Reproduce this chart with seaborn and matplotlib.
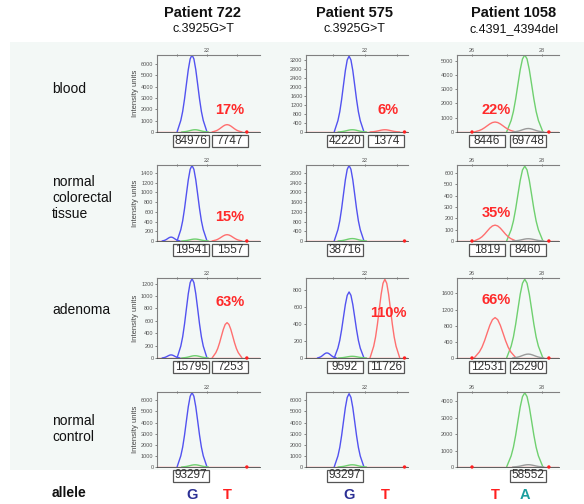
import numpy as np
import pandas as pd
import matplotlib
matplotlib.use("Agg")
import matplotlib.pyplot as plt
import matplotlib.transforms as mtransforms
from matplotlib.patches import Rectangle
import seaborn as sns

sns.set_theme(style="white")
plt.rcParams["font.family"] = ["Liberation Sans", "DejaVu Sans"]

# ---------------- data ----------------
PATIENTS = ["Patient 722", "Patient 575", "Patient 1058"]
MUTATIONS = ["c.3925G>T", "c.3925G>T", "c.4391_4394del"]
TISSUES = ["blood", "normal\ncolorectal\ntissue", "adenoma", "normal\ncontrol"]

WT_POS = [21.5, 21.5, 27.51]          # wild-type allele peak position
MUT_POS = [22.67, 22.63, 26.66]       # mutant allele peak position
WT_ALLELE = ["G", "G", "A"]
MUT_ALLELE = ["T", "T", "T"]

WT_HEIGHT = [[6800, 3350, 5400],
             [1550, 3100, 660],
             [1280, 780, 1950],
             [6700, 6600, 4500]]
MUT_HEIGHT = [[650, 100, 700],
              [130, 0, 140],
              [570, 930, 1000],
              [0, 0, 0]]
SHOULDER_HEIGHT = [[0, 0, 0],
                   [80, 0, 0],
                   [50, 60, 0],
                   [0, 0, 0]]
MINOR_HEIGHT = [[200, 100, 245],
                [40, 100, 20],
                [37, 20, 97],
                [200, 200, 140]]
AREA_LEFT = [["84976", "42220", "8446"],
             ["19541", "38716", "1819"],
             ["15795", "9592", "12531"],
             ["93297", "93297", ""]]
AREA_RIGHT = [["7747", "1374", "69748"],
              ["1557", "", "8460"],
              ["7253", "11726", "25290"],
              ["", "", "58552"]]
PERCENT = [["17%", "6%", "22%"],
           ["15%", "", "35%"],
           ["63%", "110%", "66%"],
           ["", "", ""]]
Y_TOP = [[6800, 3400, 5400],
         [1560, 3120, 670],
         [1290, 945, 1980],
         [6750, 6750, 4550]]
Y_STEP = [[1000, 400, 1000],
          [200, 400, 100],
          [200, 200, 400],
          [1000, 1000, 1000]]
X_RANGE = [(20.33, 23.77), (20.14, 23.36), (25.57, 28.49)]
X_LABELED = [[22], [22], [26, 28]]
SIZE_DOTS = [[23.33], [23.25], [26.0, 28.2]]

# normalised peak shape
PROFILE_OFF = [-1, -0.875, -0.75, -0.625, -0.5, -0.375, -0.25, -0.125, 0,
               0.125, 0.25, 0.375, 0.5, 0.625, 0.75, 0.875, 1]
PROFILE_VAL = [0, 0.075, 0.15, 0.267, 0.43, 0.622, 0.81, 0.949, 1,
               0.949, 0.81, 0.622, 0.43, 0.267, 0.15, 0.075, 0]

# ---------------- layout ----------------
W, H = 584, 504
COL_LEFT = [157, 306, 457]
COL_W = [103, 102, 102]
ROW_TOP = [55, 165, 278, 392]
ROW_BOT = [132, 241, 358, 467]
PX_PER_UNIT = [30, 31.7, 35]
HALF_W = [(0.5, 0.5), (0.47, 0.47), (0.52, 0.6)]   # (wt, mut)
BOX_X = [(21.47, 22.77), (21.37, 22.66), (26.43, 27.6)]
PCT_X = [22.77, 22.73, 26.69]
PCT_Y = [[0.29, 0.29, 0.29], [0.32, 0.0, 0.37], [0.70, 0.56, 0.73], [0, 0, 0]]
ROW_LABEL_Y = [89, 198, 310, 429]
HEAD_X = [203, 354, 514]

BLUE = "#5252f0"
RED = "#ff6f6f"
GREEN = "#6fd06f"
GREY = "#9a9a9a"
WT_COLOR = [BLUE, BLUE, GREEN]
ALLELE_COLOR = {"G": "#2b2f94", "T": "#ff1f1f", "A": "#1a9e9e"}

fig = plt.figure(figsize=(W / 100, H / 100), dpi=100)
fig.patch.set_facecolor("white")
fig.patches.append(Rectangle((10 / W, 1 - 470 / H), (W - 10) / W, (470 - 42) / H,
                             transform=fig.transFigure, facecolor="#f3f8f6",
                             edgecolor="none", zorder=-10))


def peak_rows(name, center, height, half):
    return [(name, center + half * o, height * v) for o, v in zip(PROFILE_OFF, PROFILE_VAL)]


for r in range(4):
    for c in range(3):
        l = COL_LEFT[c]
        ax = fig.add_axes([l / W, 1 - ROW_BOT[r] / H, COL_W[c] / W,
                           (ROW_BOT[r] - ROW_TOP[r]) / H])
        ax.set_facecolor("none")
        ax.set_zorder(2)
        x0, x1 = X_RANGE[c]
        hw_wt, hw_mut = HALF_W[c]
        rows = []
        rows += [("base", x0, 0), ("base", x1, 0)]
        rows += peak_rows("wt", WT_POS[c], WT_HEIGHT[r][c], hw_wt)
        if MUT_HEIGHT[r][c] > 0:
            rows += peak_rows("mut", MUT_POS[c], MUT_HEIGHT[r][c], hw_mut)
        if SHOULDER_HEIGHT[r][c] > 0:
            rows += peak_rows("shoulder", WT_POS[c] - 0.7, SHOULDER_HEIGHT[r][c], 0.3)
        minor_pos = WT_POS[c] + 0.1
        rows += peak_rows("minor", minor_pos, MINOR_HEIGHT[r][c], 0.45)
        df = pd.DataFrame(rows, columns=["trace", "x", "y"])
        pal = {"base": RED, "wt": WT_COLOR[c], "mut": RED,
               "shoulder": BLUE, "minor": GREEN if c < 2 else GREY}
        sns.lineplot(data=df, x="x", y="y", hue="trace", palette=pal,
                     estimator=None, sort=True, legend=False, linewidth=1.0,
                     ax=ax)
        # dark baseline
        sns.lineplot(x=[x0, x1], y=[0, 0], color="#333333", linewidth=0.5,
                     linestyle=(0, (3, 2)), ax=ax)
        dots = pd.DataFrame({"x": SIZE_DOTS[c], "y": [0] * len(SIZE_DOTS[c])})
        sns.scatterplot(data=dots, x="x", y="y", color="#ff2020", s=6,
                        edgecolor="none", ax=ax, clip_on=False, zorder=5)

        ax.set_xlim(x0, x1)
        ax.set_ylim(0, Y_TOP[r][c])
        ax.set_xlabel("")
        ax.set_ylabel("Intensity units" if c == 0 else "", fontsize=5.5,
                      color="#444444", labelpad=1.5)
        ax.xaxis.tick_top()
        xt = list(range(int(np.ceil(x0)), int(np.floor(x1)) + 1))
        ax.set_xticks(xt)
        ax.set_xticklabels([str(v) if v in X_LABELED[c] else "" for v in xt])
        yt = list(range(0, int(Y_TOP[r][c]) + 1, Y_STEP[r][c]))
        ax.set_yticks(yt)
        ax.set_yticklabels([str(v) for v in yt])
        ax.tick_params(axis="x", length=2, width=0.6, pad=0.5, labelsize=4,
                       colors="#555555", direction="inout")
        ax.tick_params(axis="y", length=1.5, width=0.5, pad=1, labelsize=4,
                       colors="#555555", left=True)
        ax.spines["right"].set_visible(False)
        ax.spines["top"].set_color("#808080")
        ax.spines["top"].set_linewidth(0.8)
        ax.spines["left"].set_color("#808080")
        ax.spines["left"].set_linewidth(0.8)
        ax.spines["bottom"].set_color("#444444")
        ax.spines["bottom"].set_linewidth(0.6)

        # area boxes
        trans = mtransforms.blended_transform_factory(ax.transData, ax.transAxes)
        box_w = 36 / PX_PER_UNIT[c]
        box_h = 12 / (ROW_BOT[r] - ROW_TOP[r])
        box_yc = -8.5 / (ROW_BOT[r] - ROW_TOP[r])
        for txt, bx in zip([AREA_LEFT[r][c], AREA_RIGHT[r][c]], BOX_X[c]):
            if not txt:
                continue
            ax.add_patch(Rectangle((bx - box_w / 2, box_yc - box_h / 2), box_w, box_h,
                                   transform=trans, facecolor="white",
                                   edgecolor="#555555", linewidth=0.9, clip_on=False))
            ax.text(bx, box_yc, txt, transform=trans, ha="center", va="center",
                    fontsize=8.5, color="#333333")
        if PERCENT[r][c]:
            ax.text(PCT_X[c], PCT_Y[r][c], PERCENT[r][c], transform=trans,
                    ha="center", va="center", fontsize=10.5, fontweight="bold",
                    color="#ff2a2a")
        if r == 3:
            for al, pos in [(WT_ALLELE[c], WT_POS[c]), (MUT_ALLELE[c], MUT_POS[c])]:
                ax.text(pos, -(495 - ROW_BOT[r]) / (ROW_BOT[r] - ROW_TOP[r]), al,
                        transform=trans, ha="center", va="center", fontsize=10.5,
                        fontweight="bold", color=ALLELE_COLOR[al])

# headers
for c in range(3):
    fig.text(HEAD_X[c] / W, 1 - 13 / H, PATIENTS[c], ha="center", va="center",
             fontsize=10.5, fontweight="bold", color="#111111")
    fig.text(HEAD_X[c] / W, 1 - 29 / H, MUTATIONS[c], ha="center", va="center",
             fontsize=9, color="#111111")

# row labels
for r in range(4):
    fig.text(52 / W, 1 - ROW_LABEL_Y[r] / H, TISSUES[r], ha="left", va="center",
             fontsize=10, color="#111111", linespacing=1.15)
fig.text(52 / W, 1 - 493 / H, "allele", ha="left", va="center", fontsize=10,
         fontweight="bold", color="#111111")

fig.savefig("out.png", dpi=100)
